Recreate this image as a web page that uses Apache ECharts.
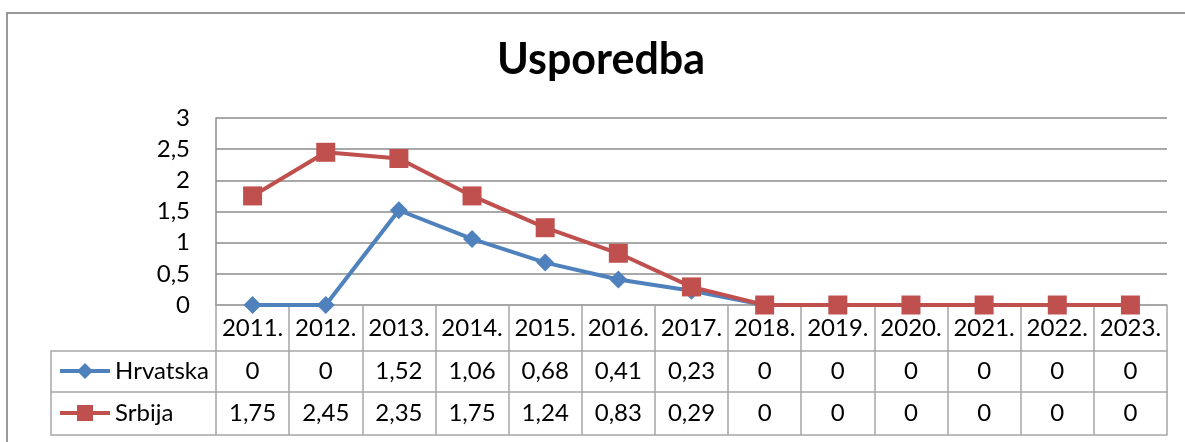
<!DOCTYPE html>
<html>
<head>
<meta charset="utf-8">
<script src="https://cdn.jsdelivr.net/npm/echarts@6/dist/echarts.min.js"></script>
<style>
html,body{margin:0;padding:0;background:#fff;}
#chart{width:1185px;height:442px;}
</style>
</head>
<body>
<div id="chart"></div>
<script>
const categories = ['2011.','2012.','2013.','2014.','2015.','2016.','2017.','2018.','2019.','2020.','2021.','2022.','2023.'];
const hrvatska = [0, 0, 1.52, 1.06, 0.68, 0.41, 0.23, 0, 0, 0, 0, 0, 0];
const srbija = [1.75, 2.45, 2.35, 1.75, 1.24, 0.83, 0.29, 0, 0, 0, 0, 0, 0];
const titleText = 'Usporedba';
const seriesNames = ['Hrvatska', 'Srbija'];

const FONT = 'Lato';
const GRID = '#8c8c8c';
const TABLE = '#a6a6a6';
const BLUE = '#4F81BD';
const RED = '#C0504D';
const fmt = v => String(v).replace('.', ',');

const chart = echarts.init(document.getElementById('chart'), null, {renderer: 'canvas'});

function tableAxis(offset, tickLen, labels) {
  return {
    type: 'category', data: categories, gridIndex: 0, position: 'bottom', offset: offset,
    boundaryGap: true,
    axisLine: {show: true, lineStyle: {color: TABLE, width: 1.5}},
    axisTick: {show: tickLen > 0, length: tickLen, interval: 0, alignWithLabel: false, lineStyle: {color: TABLE, width: 1.5}},
    axisLabel: {
      show: !!labels, interval: 0, margin: tickLen / 2, verticalAlign: 'middle',
      fontFamily: FONT, fontSize: 24, color: '#000',
      formatter: (v, i) => labels ? labels[i] : ''
    },
    splitLine: {show: false}
  };
}

function legendFor(name, top, color) {
  return {data: [name], left: 58, top: top, padding: 0, itemWidth: 50, itemHeight: 20,
    selectedMode: false,
    lineStyle: {width: 4, color: color},
    textStyle: {fontFamily: FONT, fontSize: 24, color: '#000', lineHeight: 24}};
}

const option = {
  backgroundColor: '#fff',
  animation: false,
  grid: {left: 216, right: 18, top: 118, bottom: 137, containLabel: false},
  legend: [
    legendFor(seriesNames[0], 359, BLUE),
    legendFor(seriesNames[1], 401, RED)
  ],
  xAxis: [
    tableAxis(0, 46, categories),
    tableAxis(46, 41, hrvatska.map(fmt)),
    tableAxis(87, 43, srbija.map(fmt)),
    tableAxis(130, 0, null)
  ],
  yAxis: {
    type: 'value', min: 0, max: 3, interval: 0.5,
    axisLine: {show: true, lineStyle: {color: GRID, width: 1.5}},
    axisTick: {show: false},
    axisLabel: {margin: 26, fontFamily: FONT, fontSize: 24, color: '#000', formatter: v => fmt(v)},
    splitLine: {show: true, lineStyle: {color: GRID, width: 1.5}}
  },
  series: [
    {name: seriesNames[0], type: 'line', data: hrvatska, xAxisIndex: 0,
     symbol: 'diamond', symbolSize: 18, showAllSymbol: true,
     lineStyle: {color: BLUE, width: 4}, itemStyle: {color: BLUE}, z: 3},
    {name: seriesNames[1], type: 'line', data: srbija, xAxisIndex: 0,
     symbol: 'rect', symbolSize: 19, showAllSymbol: true,
     lineStyle: {color: RED, width: 4}, itemStyle: {color: RED}, z: 4}
  ],
  graphic: [
    {type: 'rect', shape: {x: 7, y: 13, width: 1200, height: 500}, style: {fill: null, stroke: '#999', lineWidth: 2}, silent: true, z: -10},
    {type: 'text', x: 601, y: 60, style: {text: titleText, font: 'bold 43px Lato', fill: '#000', align: 'center', verticalAlign: 'middle'}},
    {type: 'polyline', shape: {points: [[216, 351], [51, 351], [51, 435], [216, 435]]}, style: {fill: null, stroke: TABLE, lineWidth: 1.5}},
    {type: 'line', shape: {x1: 51, y1: 392, x2: 216, y2: 392}, style: {stroke: TABLE, lineWidth: 1.5}}
  ]
};
chart.setOption(option);
</script>
</body>
</html>
